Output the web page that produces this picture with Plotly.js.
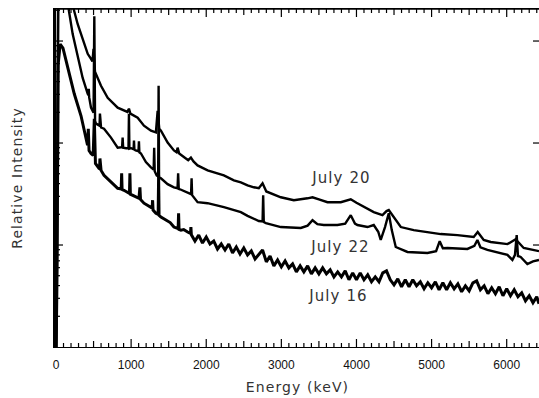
<!DOCTYPE html>
<html><head><meta charset="utf-8">
<script src="https://cdn.plot.ly/plotly-3.0.1.min.js"></script>
<style>html,body{margin:0;padding:0;background:#fff;overflow:hidden}</style>
</head><body><div id="chart" style="width:539px;height:398px"></div>
<script>
// ---- data (energy in keV, relative intensity) ----
const july20Energy = [0, 12, 30, 80, 150, 200, 243, 289, 355, 422, 466, 485, 500, 519, 599, 688, 821, 905, 950, 971, 990, 1087, 1171, 1264, 1330, 1353, 1375, 1397, 1486, 1570, 1605, 1619, 1640, 1729, 1760, 1796, 1830, 1885, 2018, 2235, 2368, 2461, 2550, 2634, 2700, 2750, 2800, 2993, 3166, 3348, 3415, 3500, 3614, 3791, 3924, 4000, 4057, 4230, 4346, 4400, 4430, 4470, 4496, 4540, 4590, 4762, 5122, 5344, 5561, 5614, 5694, 5787, 6010, 6119, 6226, 6430];
const july20Counts = [0.08, 0.6, 400, 600, 450, 260, 196, 146, 105, 75, 66.7, 63, 84, 50, 36.4, 27.8, 22.2, 20.7, 20.2, 21.7, 19.4, 17.7, 14.8, 13.2, 12.7, 20.7, 13.8, 13.2, 10.1, 8.45, 8.1, 9.0, 7.9, 7.06, 6.8, 7.2, 6.6, 6.03, 5.39, 4.82, 4.31, 4.12, 3.85, 3.68, 3.60, 4.03, 3.35, 2.94, 2.75, 2.87, 2.94, 2.80, 2.63, 2.63, 2.81, 2.60, 2.46, 2.10, 1.96, 2.15, 2.20, 2.0, 1.88, 1.65, 1.50, 1.40, 1.28, 1.25, 1.20, 1.34, 1.12, 1.07, 1.02, 1.14, 0.935, 0.87];

const july22Energy = [0, 12, 30, 80, 130, 173, 222, 289, 355, 422, 432, 436, 442, 466, 488, 500, 510, 520, 532, 560, 580, 585, 590, 600, 639, 732, 821, 880, 887, 894, 935, 965, 971, 977, 1000, 1033, 1038, 1044, 1060, 1098, 1104, 1110, 1131, 1197, 1264, 1300, 1307, 1314, 1340, 1360, 1366, 1372, 1397, 1486, 1570, 1618, 1626, 1634, 1650, 1752, 1798, 1805, 1812, 1885, 2018, 2235, 2461, 2550, 2700, 2750, 2758, 2766, 2794, 2993, 3259, 3350, 3415, 3480, 3565, 3747, 3850, 3924, 3980, 4013, 4147, 4230, 4290, 4323, 4380, 4430, 4470, 4523, 4679, 4945, 5060, 5108, 5150, 5211, 5477, 5570, 5610, 5650, 5743, 6010, 6076, 6110, 6133, 6150, 6186, 6275, 6350, 6430];
const july22Counts = [0.07, 0.5, 400, 500, 350, 196, 117, 68.3, 43.5, 30.4, 29.5, 34, 28, 22.2, 20.7, 19.8, 175, 16.5, 15.5, 15.0, 14.8, 19.4, 14.6, 14.2, 13.8, 11.3, 9.0, 9.1, 11.3, 9.0, 8.9, 8.9, 19.4, 8.8, 8.9, 8.7, 10.6, 8.6, 8.45, 8.3, 10.4, 8.1, 7.9, 6.5, 5.77, 5.5, 9.0, 5.3, 4.8, 4.7, 36.4, 4.6, 4.51, 3.95, 3.68, 3.6, 5.04, 3.55, 3.52, 3.22, 3.15, 4.51, 3.08, 2.63, 2.57, 2.35, 2.10, 1.93, 1.72, 1.70, 3.07, 1.68, 1.64, 1.50, 1.47, 1.55, 1.75, 1.60, 1.57, 1.57, 1.62, 1.96, 1.62, 1.57, 1.50, 1.57, 1.35, 1.12, 1.50, 2.05, 1.40, 0.956, 0.855, 0.836, 0.87, 1.09, 0.93, 0.935, 0.915, 0.98, 1.12, 0.95, 0.894, 0.80, 0.714, 0.80, 1.25, 0.78, 0.764, 0.65, 0.69, 0.714];

const july16Energy = [0, 12, 30, 55, 93, 156, 243, 333, 372, 420, 430, 440, 466, 495, 510, 525, 572, 580, 585, 590, 600, 639, 732, 821, 868, 874, 880, 905, 978, 984, 990, 1020, 1104, 1117, 1125, 1171, 1264, 1280, 1286, 1292, 1330, 1360, 1366, 1372, 1397, 1463, 1520, 1570, 1626, 1632, 1638, 1663, 1700, 1752, 1790, 1796, 1802, 1850, 1900, 1950, 2000, 2050, 2100, 2150, 2200, 2250, 2300, 2350, 2400, 2450, 2500, 2550, 2600, 2650, 2700, 2750, 2800, 2850, 2900, 2950, 3000, 3050, 3100, 3150, 3200, 3250, 3300, 3350, 3400, 3450, 3500, 3550, 3600, 3650, 3700, 3750, 3800, 3850, 3900, 3950, 4000, 4050, 4100, 4150, 4200, 4250, 4300, 4350, 4400, 4450, 4500, 4550, 4600, 4650, 4700, 4750, 4800, 4850, 4900, 4950, 5000, 5050, 5100, 5150, 5200, 5250, 5300, 5350, 5400, 5450, 5500, 5550, 5600, 5650, 5700, 5750, 5800, 5850, 5900, 5950, 6000, 6050, 6100, 6150, 6200, 6250, 6300, 6350, 6400, 6430];
const july16Counts = [0.07, 0.4, 60, 93, 85, 54.5, 30.4, 18.5, 13.5, 9.5, 13.8, 8.45, 7.9, 7.55, 17.3, 6.3, 5.64, 5.6, 7.06, 5.5, 5.39, 4.82, 4.12, 3.6, 3.55, 5.04, 3.5, 3.44, 3.2, 5.04, 3.15, 3.07, 2.87, 3.68, 2.8, 2.57, 2.35, 2.3, 2.75, 2.2, 2.05, 2.0, 4.82, 1.95, 1.88, 1.75, 1.66, 1.50, 1.45, 2.05, 1.42, 1.40, 1.42, 1.34, 1.3, 1.50, 1.26, 1.094, 1.252, 1.046, 1.197, 1.023, 1.094, 0.914, 1.023, 0.894, 1.023, 0.836, 0.956, 0.817, 0.935, 0.799, 0.874, 0.730, 0.817, 0.894, 0.683, 0.781, 0.624, 0.714, 0.610, 0.698, 0.597, 0.653, 0.545, 0.624, 0.545, 0.624, 0.521, 0.597, 0.521, 0.597, 0.521, 0.570, 0.487, 0.545, 0.487, 0.558, 0.456, 0.533, 0.456, 0.533, 0.456, 0.510, 0.436, 0.487, 0.436, 0.533, 0.558, 0.456, 0.407, 0.466, 0.389, 0.456, 0.389, 0.456, 0.398, 0.436, 0.372, 0.426, 0.381, 0.436, 0.364, 0.426, 0.364, 0.426, 0.372, 0.416, 0.348, 0.398, 0.356, 0.426, 0.445, 0.364, 0.398, 0.333, 0.381, 0.333, 0.389, 0.318, 0.372, 0.318, 0.364, 0.311, 0.340, 0.284, 0.318, 0.272, 0.311, 0.266];

const seriesLabels = ['July 20', 'July 22', 'July 16'];
const xTickValues = [0, 1000, 2000, 3000, 4000, 5000, 6000];
const xTickLabels = ['0', '1000', '2000', '3000', '4000', '5000', '6000'];
const xHalfTickValues = [500, 1500, 2500, 3500, 4500, 5500];
const yDecades = [0.1, 1, 10, 100];
const yMinorMultipliers = [2, 3, 4, 5, 6, 7, 8, 9];

const XR = [0, 6430];
const YR = [-1.0, 2.314];
const yTop = Math.pow(10, YR[1]);

// ---- tick marks (axis decoration only, drawn as pixel-length shapes) ----
const tickLine = {color: '#000', width: 1.2};
const shapes = [];
function xTick(v, len) {
  shapes.push({type: 'line', xref: 'x', yref: 'paper', ysizemode: 'pixel', yanchor: 0,
    x0: v, x1: v, y0: 0, y1: len, line: tickLine, layer: 'above'});
  shapes.push({type: 'line', xref: 'x', yref: 'paper', ysizemode: 'pixel', yanchor: 1,
    x0: v, x1: v, y0: 0, y1: -len, line: tickLine, layer: 'above'});
}
function yTick(v, len, right) {
  shapes.push({type: 'line', yref: 'y', xref: 'paper', xsizemode: 'pixel', xanchor: right ? 1 : 0,
    y0: v, y1: v, x0: 0, x1: right ? -len : len, line: tickLine, layer: 'above'});
}
for (let e = 100; e < XR[1]; e += 100) {
  if (xTickValues.indexOf(e) >= 0) xTick(e, 8);
  else if (xHalfTickValues.indexOf(e) >= 0) xTick(e, 6);
  else xTick(e, 4);
}
yDecades.forEach(d => {
  if (d > 0.1) { yTick(d, 7, false); yTick(d, 6, true); }
  yMinorMultipliers.forEach(m => { if (d * m < yTop) yTick(d * m, 4, false); });
});
// top frame line
shapes.push({type: 'line', xref: 'paper', yref: 'paper', x0: 0, x1: 1, y0: 1, y1: 1,
  line: {color: '#000', width: 1.3}, layer: 'above'});

function lineTrace(x, y, name, w) {
  return {x: x, y: y, name: name, type: 'scatter', mode: 'lines',
          line: {color: '#000', width: w}, showlegend: false, hoverinfo: 'skip'};
}
const traces = [
  lineTrace(july20Energy, july20Counts, seriesLabels[0], 2.4),
  lineTrace(july22Energy, july22Counts, seriesLabels[1], 2.4),
  lineTrace(july16Energy, july16Counts, seriesLabels[2], 3)
];

const textFont = {family: 'DejaVu Sans, Verdana, sans-serif', size: 14, color: '#333'};
const labelFont = {family: 'DejaVu Sans, Verdana, sans-serif', size: 15, color: '#333'};

const layout = {
  width: 539, height: 398,
  margin: {l: 56, r: 0, t: 9, b: 51, pad: 0},
  paper_bgcolor: '#fff', plot_bgcolor: '#fff',
  showlegend: false,
  xaxis: {
    range: XR, showgrid: false, zeroline: false,
    showline: true, linecolor: '#000', linewidth: 1.3, mirror: true,
    tickmode: 'array', tickvals: xTickValues, ticktext: xTickLabels, ticks: '',
    tickfont: {family: 'Liberation Sans, Arial, sans-serif', size: 12, color: '#111'},
    ticklabelstandoff: 6,
    title: {text: 'Energy (keV)', font: textFont, standoff: 11},
    automargin: false
  },
  yaxis: {
    type: 'log', range: YR, showgrid: false, zeroline: false,
    showline: true, linecolor: '#000', linewidth: 3, mirror: false,
    tickmode: 'array', tickvals: yDecades, ticks: '', showticklabels: false,
    title: {text: 'Relative Intensity', font: textFont, standoff: 28},
    automargin: false
  },
  shapes: shapes,
  annotations: [
    {x: 3795, y: 0.657, xref: 'x', yref: 'y', text: seriesLabels[0], showarrow: false, font: labelFont},
    {x: 3778, y: -0.015, xref: 'x', yref: 'y', text: seriesLabels[1], showarrow: false, font: labelFont},
    {x: 3755, y: -0.50, xref: 'x', yref: 'y', text: seriesLabels[2], showarrow: false, font: labelFont}
  ]
};

Plotly.newPlot('chart', traces, layout, {staticPlot: true, displayModeBar: false}).then(function () {
  document.querySelectorAll('.annotation-text, .xtitle, .ytitle').forEach(function (el) {
    el.style.letterSpacing = '1.1px';
  });
});
</script></body></html>
